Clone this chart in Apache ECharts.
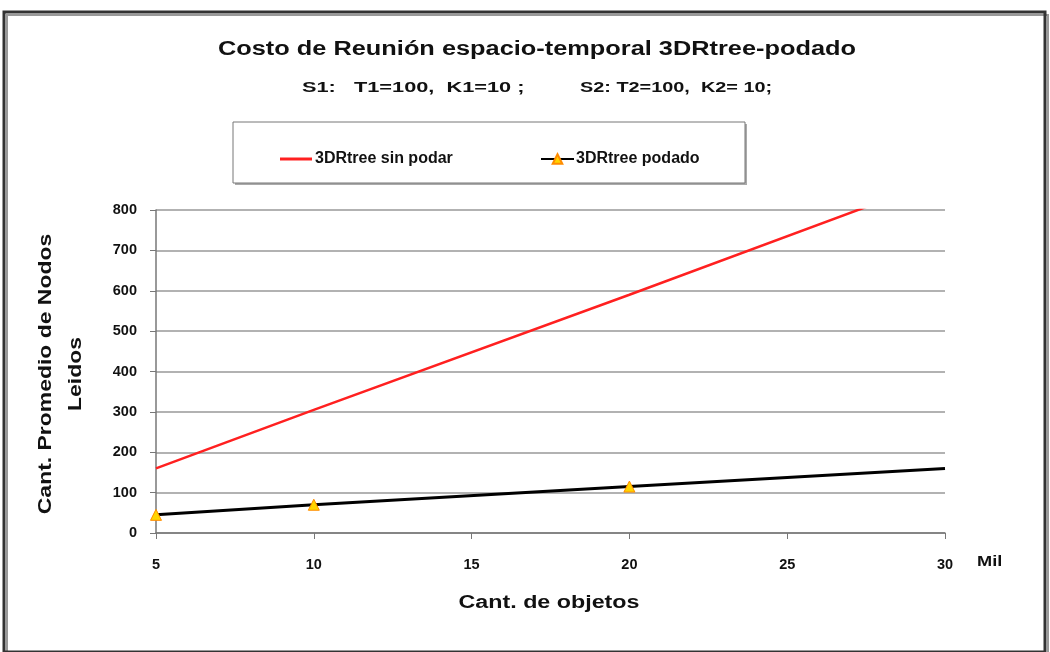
<!DOCTYPE html>
<html>
<head>
<meta charset="utf-8">
<script src="https://cdn.jsdelivr.net/npm/echarts@6/dist/echarts.min.js"></script>
<style>html,body{margin:0;padding:0;background:#fff}#c{width:1050px;height:652px}</style>
</head>
<body>
<div id="c"></div>
<script>
const titleText = 'Costo de Reunión espacio-temporal 3DRtree-podado';
const subtitleParts = ['S1:   T1=100,  K1=10 ;', 'S2: T2=100,  K2= 10;'];
const yAxisTitle = 'Cant. Promedio de Nodos\nLeidos';
const xAxisTitle = 'Cant. de objetos';
const xUnit = 'Mil';
const seriesNames = ['3DRtree sin podar', '3DRtree podado'];
const xSinPodar = [5, 10, 20, 30];
const ySinPodar = [160, 305, 590, 880];
const xPodado = [5, 10, 20, 30];
const yPodado = [45, 70, 115, 160];
const podadoMarked = [true, true, true, false];
const yTicks = [0, 800, 100];
const xTicks = [5, 30, 5];

const font = 'Liberation Sans, Arial, sans-serif';
const chart = echarts.init(document.getElementById('c'));
chart.setOption({
  animation: false,
  backgroundColor: '#ffffff',
  graphic: [
    {type: 'rect', shape: {x: 7, y: 15, width: 1041, height: 640}, style: {fill: 'none', stroke: '#999', lineWidth: 2}, z: -1},
    {type: 'rect', shape: {x: 4, y: 12, width: 1041, height: 640}, style: {fill: 'none', stroke: '#333', lineWidth: 3}, z: -1},
    {type: 'rect', shape: {x: 235, y: 124, width: 512, height: 61}, style: {fill: '#aaa'}, z: 0},
    {type: 'rect', shape: {x: 233, y: 122, width: 512, height: 61}, style: {fill: '#fff', stroke: '#777', lineWidth: 1}, z: 1},
    {type: 'text', x: 537, y: 50, scaleX: 1.3, style: {text: titleText, font: 'bold 19.5px ' + font, fill: '#111', textAlign: 'center', textVerticalAlign: 'middle'}, z: 5},
    {type: 'text', x: 302, y: 88, scaleX: 1.5, style: {text: subtitleParts[0], font: 'bold 14.5px ' + font, fill: '#111', textAlign: 'left', textVerticalAlign: 'middle'}, z: 5},
    {type: 'text', x: 580, y: 88, scaleX: 1.37, style: {text: subtitleParts[1], font: 'bold 14.5px ' + font, fill: '#111', textAlign: 'left', textVerticalAlign: 'middle'}, z: 5},
    {type: 'text', x: 61, y: 374, rotation: Math.PI / 2, scaleX: 1.24,
     style: {text: yAxisTitle, font: 'bold 18.5px ' + font, fill: '#111', textAlign: 'center', textVerticalAlign: 'middle', lineHeight: 30}, z: 5},
    {type: 'text', x: 549, y: 603, scaleX: 1.33, style: {text: xAxisTitle, font: 'bold 17.5px ' + font, fill: '#111', textAlign: 'center', textVerticalAlign: 'middle'}, z: 5},
    {type: 'text', x: 977, y: 562, scaleX: 1.3, style: {text: xUnit, font: 'bold 14px ' + font, fill: '#111', textAlign: 'left', textVerticalAlign: 'middle'}, z: 5}
  ],
  legend: [
    {data: [{name: seriesNames[0], icon: 'rect'}], left: 275, top: 146, itemWidth: 32, itemHeight: 3, itemGap: 4, z: 10,
     textStyle: {fontFamily: font, fontSize: 16, fontWeight: 'bold', color: '#111', padding: [0, 0, 0, -2]}},
    {data: [seriesNames[1]], left: 535, top: 146, itemWidth: 33, itemHeight: 12, z: 10,
     textStyle: {fontFamily: font, fontSize: 16, fontWeight: 'bold', color: '#111', padding: [0, 0, 0, -3]}}
  ],
  grid: {left: 156, right: 105, top: 210, bottom: 119, show: false},
  xAxis: {
    type: 'value', min: xTicks[0], max: xTicks[1], interval: xTicks[2],
    axisLine: {show: true, lineStyle: {color: '#777', width: 1.5}},
    axisTick: {show: true, inside: false, length: 6, lineStyle: {color: '#777'}},
    axisLabel: {fontFamily: font, fontSize: 14.5, fontWeight: 'bold', color: '#111', margin: 24},
    splitLine: {show: false}
  },
  yAxis: {
    type: 'value', min: yTicks[0], max: yTicks[1], interval: yTicks[2],
    axisLine: {show: true, lineStyle: {color: '#777', width: 1.5}},
    axisTick: {show: true, inside: false, length: 6, lineStyle: {color: '#777'}},
    axisLabel: {fontFamily: font, fontSize: 14.5, fontWeight: 'bold', color: '#111', margin: 19},
    splitLine: {show: true, lineStyle: {color: '#999', width: 1.5}}
  },
  series: [
    {name: seriesNames[0], type: 'line', clip: true,
     data: xSinPodar.map((x, i) => [x, ySinPodar[i]]),
     symbol: 'none', lineStyle: {color: '#ff2020', width: 2.5}, itemStyle: {color: '#ff2020'}},
    {name: seriesNames[1], type: 'line', clip: false,
     data: xPodado.map((x, i) => ({value: [x, yPodado[i]], symbol: podadoMarked[i] ? 'triangle' : 'none'})),
     symbol: 'triangle', symbolSize: 11,
     lineStyle: {color: '#000', width: 3},
     itemStyle: {color: '#ffd400', borderColor: '#ff8c00', borderWidth: 1}}
  ]
});
</script>
</body>
</html>
